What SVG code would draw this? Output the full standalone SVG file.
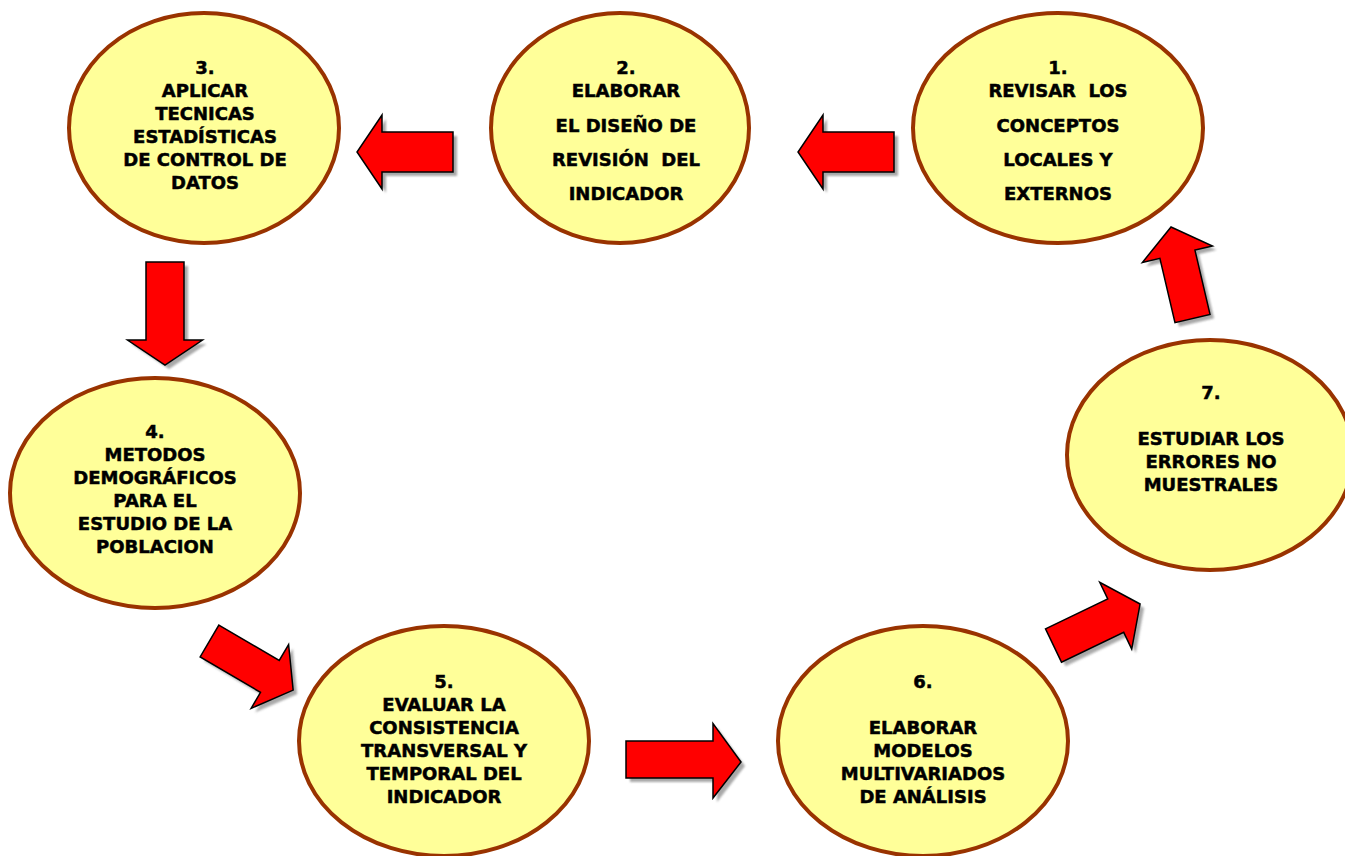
<svg xmlns="http://www.w3.org/2000/svg" width="1345" height="856" viewBox="0 0 1345 856">
<style>
.node ellipse{fill:#FFFF99;stroke:#993300;stroke-width:4}
.node text{font-family:"DejaVu Sans","Liberation Sans",sans-serif;font-weight:bold;font-size:18px;fill:#000;stroke:#000;stroke-width:0.5;text-anchor:middle}
.arr{fill:#FF0000;stroke:#000;stroke-width:1.5;stroke-linejoin:miter}
.sh{fill:#8c8c8c;opacity:0.75}
</style>
<defs>
<filter id="blur" x="-20%" y="-20%" width="140%" height="140%"><feGaussianBlur stdDeviation="1"/></filter>
</defs>
<rect width="1345" height="856" fill="#fff"/>
<g id="connectors">
  <!-- 2 -> 3 -->
  <g transform="translate(453,152) rotate(180)">
    <path class="sh" filter="url(#blur)" transform="translate(-4,-4)" d="M0,-20 L71,-20 L71,-37 L96,0 L71,37 L71,20 L0,20 Z"/>
    <path class="arr" d="M0,-20 L71,-20 L71,-37 L96,0 L71,37 L71,20 L0,20 Z"/>
  </g>
  <!-- 1 -> 2 -->
  <g transform="translate(894,152) rotate(180)">
    <path class="sh" filter="url(#blur)" transform="translate(-4,-4)" d="M0,-20 L71,-20 L71,-37 L96,0 L71,37 L71,20 L0,20 Z"/>
    <path class="arr" d="M0,-20 L71,-20 L71,-37 L96,0 L71,37 L71,20 L0,20 Z"/>
  </g>
  <!-- 3 -> 4 -->
  <g transform="translate(165,262) rotate(90)">
    <path class="sh" filter="url(#blur)" transform="translate(4,-4)" d="M0,-19 L78,-19 L78,-37.5 L103,0 L78,37.5 L78,19 L0,19 Z"/>
    <path class="arr" d="M0,-19 L78,-19 L78,-37.5 L103,0 L78,37.5 L78,19 L0,19 Z"/>
  </g>
  <!-- 4 -> 5 -->
  <g transform="translate(209.5,641) rotate(30.4)">
    <path class="sh" filter="url(#blur)" transform="rotate(-30.4) translate(4,4) rotate(30.4)" d="M0,-18.5 L70,-18.5 L70,-37 L97,0 L70,37 L70,18.5 L0,18.5 Z"/>
    <path class="arr" d="M0,-18.5 L70,-18.5 L70,-37 L97,0 L70,37 L70,18.5 L0,18.5 Z"/>
  </g>
  <!-- 5 -> 6 -->
  <g transform="translate(626,759.5)">
    <path class="sh" filter="url(#blur)" transform="translate(4,4)" d="M0,-18.5 L87,-18.5 L87,-36 L115,2.5 L87,38.5 L87,18.5 L0,18.5 Z"/>
    <path class="arr" d="M0,-18.5 L87,-18.5 L87,-36 L115,2.5 L87,38.5 L87,18.5 L0,18.5 Z"/>
  </g>
  <!-- 6 -> 7 -->
  <g transform="translate(1053.5,645.5) rotate(-25.6)">
    <path class="sh" filter="url(#blur)" transform="rotate(25.6) translate(4,4) rotate(-25.6)" d="M0,-18.5 L69,-18.5 L69,-37 L96,0 L69,37 L69,18.5 L0,18.5 Z"/>
    <path class="arr" d="M0,-18.5 L69,-18.5 L69,-37 L96,0 L69,37 L69,18.5 L0,18.5 Z"/>
  </g>
  <!-- 7 -> 1 -->
  <g transform="translate(1192.5,318.5) rotate(-103.2)">
    <path class="sh" filter="url(#blur)" transform="rotate(103.2) translate(4,4) rotate(-103.2)" d="M0,-18 L66,-18 L66,-36 L94,0 L66,36 L66,18 L0,18 Z"/>
    <path class="arr" d="M0,-18 L66,-18 L66,-36 L94,0 L66,36 L66,18 L0,18 Z"/>
  </g>
</g>
<g id="node1" class="node">
  <ellipse cx="1058" cy="128" rx="145" ry="115"/>
  <text x="1058" y="74">1.</text>
  <text x="1058" y="97" xml:space="preserve">REVISAR  LOS</text>
  <text x="1058" y="132">CONCEPTOS</text>
  <text x="1058" y="166">LOCALES Y</text>
  <text x="1058" y="200">EXTERNOS</text>
</g>
<g id="node2" class="node">
  <ellipse cx="620" cy="128" rx="129" ry="115"/>
  <text x="626" y="74">2.</text>
  <text x="626" y="97">ELABORAR</text>
  <text x="626" y="132">EL DISEÑO DE</text>
  <text x="626" y="166" xml:space="preserve">REVISIÓN  DEL</text>
  <text x="626" y="200">INDICADOR</text>
</g>
<g id="node3" class="node">
  <ellipse cx="204" cy="128" rx="135" ry="115"/>
  <text x="205" y="74">3.</text>
  <text x="205" y="97">APLICAR</text>
  <text x="205" y="120">TECNICAS</text>
  <text x="205" y="143">ESTADÍSTICAS</text>
  <text x="205" y="166">DE CONTROL DE</text>
  <text x="205" y="189">DATOS</text>
</g>
<g id="node4" class="node">
  <ellipse cx="155" cy="493" rx="145" ry="115"/>
  <text x="155" y="438">4.</text>
  <text x="155" y="461">METODOS</text>
  <text x="155" y="484">DEMOGRÁFICOS</text>
  <text x="155" y="507">PARA EL</text>
  <text x="155" y="530">ESTUDIO DE LA</text>
  <text x="155" y="553">POBLACION</text>
</g>
<g id="node5" class="node">
  <ellipse cx="444" cy="741" rx="145" ry="115"/>
  <text x="444" y="688">5.</text>
  <text x="444" y="711">EVALUAR LA</text>
  <text x="444" y="734">CONSISTENCIA</text>
  <text x="444" y="757">TRANSVERSAL Y</text>
  <text x="444" y="780">TEMPORAL DEL</text>
  <text x="444" y="803">INDICADOR</text>
</g>
<g id="node6" class="node">
  <ellipse cx="923" cy="741" rx="145" ry="115"/>
  <text x="923" y="688">6.</text>
  <text x="923" y="734">ELABORAR</text>
  <text x="923" y="757">MODELOS</text>
  <text x="923" y="780">MULTIVARIADOS</text>
  <text x="923" y="803">DE ANÁLISIS</text>
</g>
<g id="node7" class="node">
  <ellipse cx="1210" cy="455" rx="143" ry="115"/>
  <text x="1211" y="399">7.</text>
  <text x="1211" y="445">ESTUDIAR LOS</text>
  <text x="1211" y="468">ERRORES NO</text>
  <text x="1211" y="491">MUESTRALES</text>
</g>
</svg>
